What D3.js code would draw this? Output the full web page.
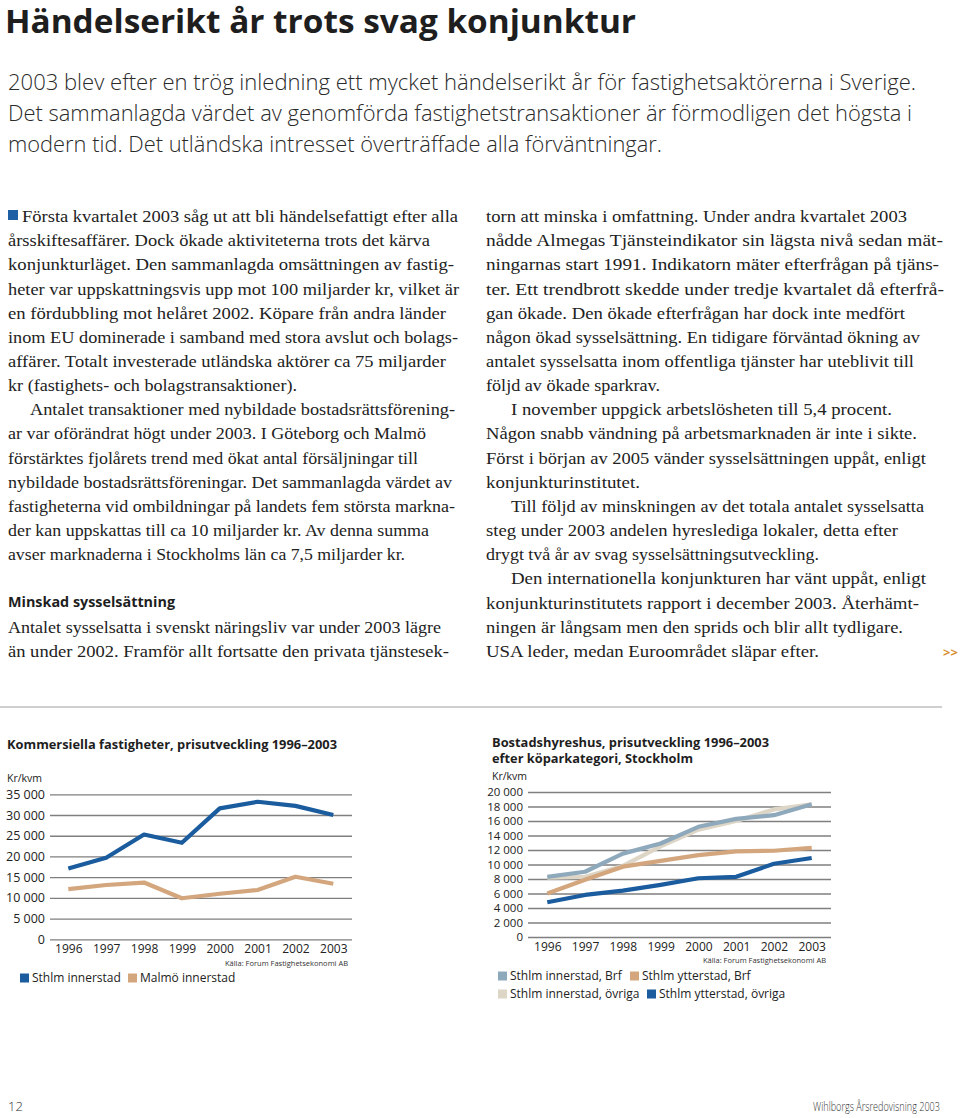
<!DOCTYPE html>
<html><head><meta charset="utf-8">
<script src="https://cdn.jsdelivr.net/npm/d3@7"></script>
<style>body{margin:0;background:#fff}svg{display:block}</style>
</head><body>
<script>
// ---------- DATA ----------
const years = [1996, 1997, 1998, 1999, 2000, 2001, 2002, 2003];
const kommTicks = [0, 5000, 10000, 15000, 20000, 25000, 30000, 35000];
const sthlmInnerstad = [17100, 19700, 25300, 23300, 31600, 33200, 32200, 30000];
const malmoInnerstad = [12100, 13100, 13700, 9900, 11000, 11900, 15100, 13400];
const bostTicks = [0, 2000, 4000, 6000, 8000, 10000, 12000, 14000, 16000, 18000, 20000];
const innerBrf = [8300, 9000, 11500, 12900, 15200, 16300, 16800, 18300];
const ytterBrf = [6000, 7900, 9700, 10500, 11300, 11800, 11900, 12300];
const innerOvriga = [8200, 8300, 9800, 12500, 14800, 16000, 17600, 18300];
const ytterOvriga = [4800, 5800, 6400, 7200, 8100, 8300, 10100, 10900];

const pageTitle = "Händelserikt år trots svag konjunktur";
const introLines = [
  "2003 blev efter en trög inledning ett mycket händelserikt år för fastighetsaktörerna i Sverige.",
  "Det sammanlagda värdet av genomförda fastighetstransaktioner är förmodligen det högsta i",
  "modern tid. Det utländska intresset överträffade alla förväntningar."
];
const leftLines = [
  "Första kvartalet 2003 såg ut att bli händelsefattigt efter alla",
  "årsskiftesaffärer. Dock ökade aktiviteterna trots det kärva",
  "konjunkturläget. Den sammanlagda omsättningen av fastig-",
  "heter var uppskattningsvis upp mot 100 miljarder kr, vilket är",
  "en fördubbling mot helåret 2002. Köpare från andra länder",
  "inom EU dominerade i samband med stora avslut och bolags-",
  "affärer. Totalt investerade utländska aktörer ca 75 miljarder",
  "kr (fastighets- och bolagstransaktioner).",
  "Antalet transaktioner med nybildade bostadsrättsförening-",
  "ar var oförändrat högt under 2003. I Göteborg och Malmö",
  "förstärktes fjolårets trend med ökat antal försäljningar till",
  "nybildade bostadsrättsföreningar. Det sammanlagda värdet av",
  "fastigheterna vid ombildningar på landets fem största markna-",
  "der kan uppskattas till ca 10 miljarder kr. Av denna summa",
  "avser marknaderna i Stockholms län ca 7,5 miljarder kr.",
  "",
  "Minskad sysselsättning",
  "Antalet sysselsatta i svenskt näringsliv var under 2003 lägre",
  "än under 2002. Framför allt fortsatte den privata tjänstesek-"
];
const rightLines = [
  "torn att minska i omfattning. Under andra kvartalet 2003",
  "nådde Almegas Tjänsteindikator sin lägsta nivå sedan mät-",
  "ningarnas start 1991. Indikatorn mäter efterfrågan på tjäns-",
  "ter. Ett trendbrott skedde under tredje kvartalet då efterfrå-",
  "gan ökade. Den ökade efterfrågan har dock inte medfört",
  "någon ökad sysselsättning. En tidigare förväntad ökning av",
  "antalet sysselsatta inom offentliga tjänster har uteblivit till",
  "följd av ökade sparkrav.",
  "I november uppgick arbetslösheten till 5,4 procent.",
  "Någon snabb vändning på arbetsmarknaden är inte i sikte.",
  "Först i början av 2005 vänder sysselsättningen uppåt, enligt",
  "konjunkturinstitutet.",
  "Till följd av minskningen av det totala antalet sysselsatta",
  "steg under 2003 andelen hyreslediga lokaler, detta efter",
  "drygt två år av svag sysselsättningsutveckling.",
  "Den internationella konjunkturen har vänt uppåt, enligt",
  "konjunkturinstitutets rapport i december 2003. Återhämt-",
  "ningen är långsam men den sprids och blir allt tydligare.",
  "USA leder, medan Euroområdet släpar efter."
];

// ---------- LAYOUT ----------
const leftStart = [22,8,8,8,8,8,8,8,30,8,8,8,8,8,8,8,8,8,8];
const leftEnd   = [458,430,454,459,446,458,446,297,455,426,418,452,455,429,405,0,175,441,449];
const rightStart= [486,486,486,486,486,486,486,486,511,486,486,486,511,486,486,511,486,486,486];
const rightEnd  = [907,943,939,944,905,920,914,660,892,917,926,640,924,898,819,926,919,903,819];
const introEnd = [916, 912, 662];

const W = 960, H = 1118;
const svg = d3.select("body").append("svg").attr("width", W).attr("height", H);
svg.append("rect").attr("width", W).attr("height", H).attr("fill", "#fff");

const SANS = "'Open Sans', 'DejaVu Sans', sans-serif";
const SERIF = "'Liberation Serif', 'DejaVu Serif', serif";

function fitText(g, str, x, yc, x2, size, family, weight, color) {
  const t = g.append("text").attr("x", x).attr("y", yc + size * 0.35)
    .attr("font-family", family).attr("font-size", size)
    .attr("font-weight", weight || 400).attr("fill", color || "#222").text(str);
  if (x2) t.attr("textLength", x2 - x).attr("lengthAdjust", "spacingAndGlyphs");
  return t;
}

// Header
fitText(svg, pageTitle, 5, 21.5, 636, 32, SANS, 700, "#1e1e1e");
introLines.forEach((l, i) => fitText(svg, l, 8, 82 + i * 31, introEnd[i], 21.5, SANS, 300, "#2a2a2a"));

// Columns
const lineStep = 24.15;
svg.append("rect").attr("x", 8).attr("y", 210).attr("width", 10).attr("height", 10).attr("fill", "#1f5fa3");
leftLines.forEach((l, i) => {
  if (!l) return;
  const yc = 216 + i * lineStep;
  if (i === 16) fitText(svg, l, 8, yc, leftEnd[i], 14.5, SANS, 700, "#1e1e1e");
  else fitText(svg, l, leftStart[i], yc, leftEnd[i], 17.5, SERIF, 400, "#222");
});
rightLines.forEach((l, i) => {
  fitText(svg, l, rightStart[i], 216 + i * lineStep, rightEnd[i], 17.5, SERIF, 400, "#222");
});
svg.append("text").attr("x", 943).attr("y", 657).attr("font-family", SANS).attr("font-weight", 700)
  .attr("font-size", 13).attr("fill", "#d88a2a").text(">>");

// separator
svg.append("line").attr("x1", 0).attr("x2", 942).attr("y1", 707).attr("y2", 707)
  .attr("stroke", "#cfcfcf").attr("stroke-width", 2);

// ---------- CHART HELPER ----------
function drawChart(o) {
  const g = svg.append("g");
  const x = d3.scalePoint().domain(years).range([o.x0, o.x1]);
  const y = d3.scaleLinear().domain([0, o.max]).range([o.yb, o.yt]);
  // titles
  o.title.forEach((t, i) => fitText(g, t, o.tx, o.ty + i * 16, o.titleEnd[i], 13, SANS, 700, "#1e1e1e"));
  g.append("text").attr("x", o.tx).attr("y", o.unitY + 4).attr("font-family", SANS)
    .attr("font-size", 10.5).attr("fill", "#222").text("Kr/kvm");
  // grid
  const yAxis = d3.axisLeft(y).tickValues(o.ticks).tickSize(-(o.g1 - o.g0))
    .tickFormat(d => d3.format(",")(d).replace(/,/g, " ")).tickPadding(5);
  const ya = g.append("g").attr("transform", `translate(${o.g0},0)`).call(yAxis);
  ya.select(".domain").remove();
  ya.selectAll(".tick line").attr("stroke", "#7f7f7f").attr("stroke-width", 1.3);
  ya.selectAll(".tick text").attr("font-family", SANS).attr("font-size", o.yFont).attr("fill", "#222");
  // x axis
  const xAxis = d3.axisBottom(x).tickSize(0).tickPadding(o.xPad).tickFormat(d3.format("d"));
  const xa = g.append("g").attr("transform", `translate(0,${o.yb})`).call(xAxis);
  xa.select(".domain").remove();
  xa.selectAll(".tick text").attr("font-family", SANS).attr("font-size", 12).attr("fill", "#222");
  // source
  g.append("text").attr("x", o.srcX).attr("y", o.srcY + 3).attr("text-anchor", "end")
    .attr("font-family", SANS).attr("font-size", 7.5).attr("fill", "#333")
    .text("Källa: Forum Fastighetsekonomi AB");
  // lines
  const line = d3.line().x((d, i) => x(years[i])).y(d => y(d));
  o.series.forEach(s => {
    g.append("path").datum(s.values).attr("d", line).attr("fill", "none")
      .attr("stroke", s.color).attr("stroke-width", 4.2)
      .attr("stroke-linejoin", "round").attr("stroke-linecap", "butt");
  });
  // legend
  o.legend.forEach(l => {
    g.append("rect").attr("x", l.x).attr("y", l.y - 4.5).attr("width", 9).attr("height", 9).attr("fill", l.color);
    g.append("text").attr("x", l.x + 12).attr("y", l.y + 4.3).attr("font-family", SANS)
      .attr("font-size", 12).attr("fill", "#222").text(l.name);
  });
}

const C_DARK = "#1a5c9e", C_TAN = "#d3a67e", C_GRAY = "#8fa9bc", C_BEIGE = "#ddd6c6";

drawChart({
  title: ["Kommersiella fastigheter, prisutveckling 1996–2003"], titleEnd: [337],
  tx: 7, ty: 744, unitY: 778,
  x0: 68.3, x1: 333.3, g0: 50, g1: 352, yb: 939.3, yt: 794.3, max: 35000, ticks: kommTicks,
  yFont: 12.5, xPad: 5.5, srcX: 348, srcY: 962.5,
  series: [
    { values: malmoInnerstad, color: C_TAN },
    { values: sthlmInnerstad, color: C_DARK }
  ],
  legend: [
    { name: "Sthlm innerstad", color: C_DARK, x: 20, y: 978 },
    { name: "Malmö innerstad", color: C_TAN, x: 128, y: 978 }
  ]
});

drawChart({
  title: ["Bostadshyreshus, prisutveckling 1996–2003", "efter köparkategori, Stockholm"], titleEnd: [769, 693],
  tx: 492, ty: 742, unitY: 776,
  x0: 547.3, x1: 811.7, g0: 528, g1: 831, yb: 937, yt: 792, max: 20000, ticks: bostTicks,
  yFont: 11.5, xPad: 5, srcX: 826, srcY: 960,
  series: [
    { values: innerOvriga, color: C_BEIGE },
    { values: ytterBrf, color: C_TAN },
    { values: innerBrf, color: C_GRAY },
    { values: ytterOvriga, color: C_DARK }
  ],
  legend: [
    { name: "Sthlm innerstad, Brf", color: C_GRAY, x: 498, y: 976 },
    { name: "Sthlm ytterstad, Brf", color: C_TAN, x: 630, y: 976 },
    { name: "Sthlm innerstad, övriga", color: C_BEIGE, x: 498, y: 994 },
    { name: "Sthlm ytterstad, övriga", color: C_DARK, x: 647, y: 994 }
  ]
});

// Footer
svg.append("text").attr("x", 8).attr("y", 1111).attr("font-family", SANS).attr("font-weight", 300)
  .attr("font-size", 13).attr("fill", "#333").text("12");
svg.append("text").attr("transform", "translate(940,1111) scale(0.7,1)").attr("text-anchor", "end")
  .attr("font-family", SANS).attr("font-weight", 300).attr("font-size", 13).attr("fill", "#333")
  .text("Wihlborgs Årsredovisning 2003");
</script>
</body></html>
